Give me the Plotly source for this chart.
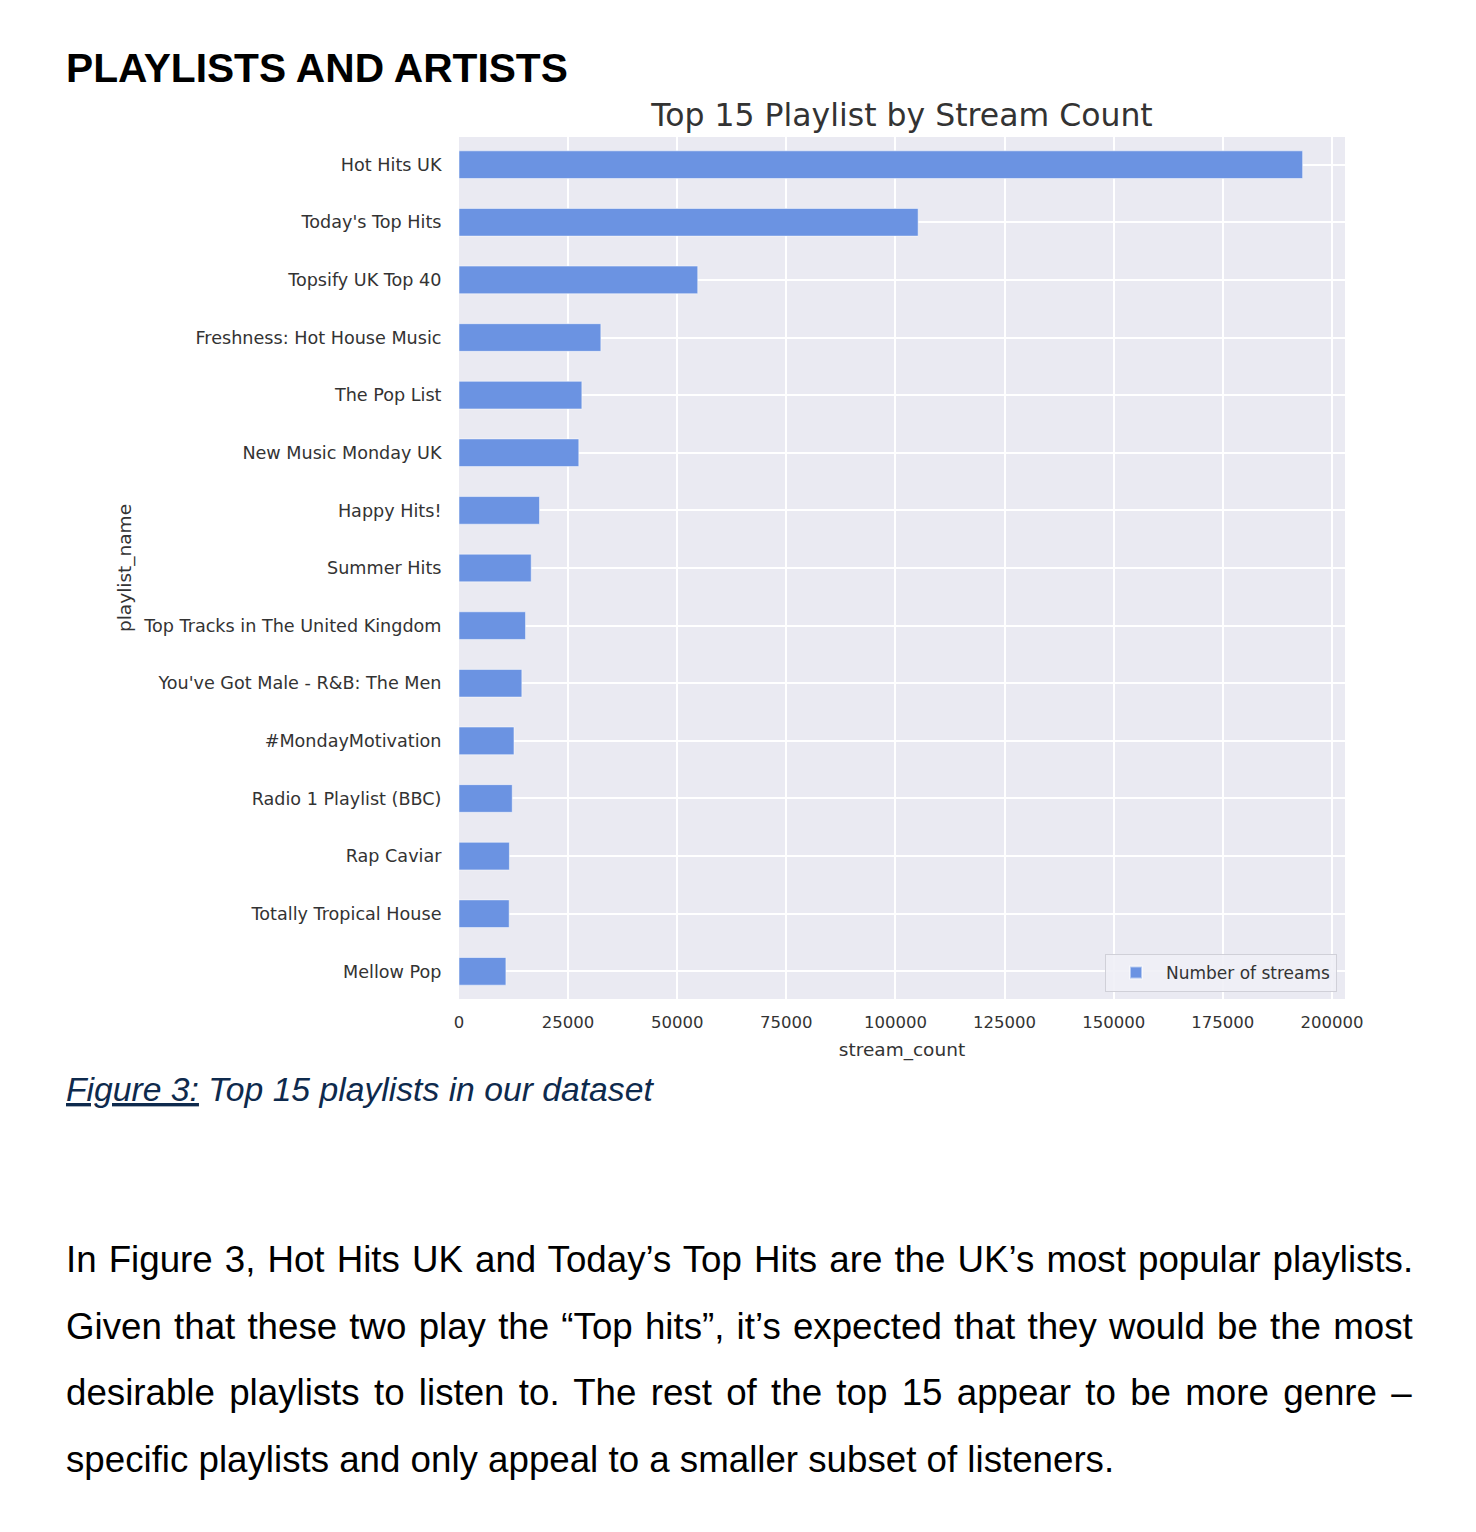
import plotly.graph_objects as go

# ---------------- data ----------------
playlists = [
    "Mellow Pop", "Totally Tropical House", "Rap Caviar", "Radio 1 Playlist (BBC)",
    "#MondayMotivation", "You've Got Male - R&B: The Men", "Top Tracks in The United Kingdom",
    "Summer Hits", "Happy Hits!", "New Music Monday UK", "The Pop List",
    "Freshness: Hot House Music", "Topsify UK Top 40", "Today's Top Hits", "Hot Hits UK",
]
stream_counts = [10750, 11500, 11550, 12200, 12600, 14400, 15250,
                 16550, 18450, 27450, 28150, 32500, 54700, 105200, 193300]
x_ticks = [0, 25000, 50000, 75000, 100000, 125000, 150000, 175000, 200000]
series_name = "Number of streams"

title_text = "Top 15 Playlist by Stream Count"
header_text = "PLAYLISTS AND ARTISTS"
caption_text = "<u>Figure 3:</u> Top 15 playlists in our dataset"
paragraph_lines = [
    "In Figure 3, Hot Hits UK and Today’s Top Hits are the UK’s most popular playlists.",
    "Given that these two play the “Top hits”, it’s expected that they would be the most",
    "desirable playlists to listen to. The rest of the top 15 appear to be more genre –",
    "specific playlists and only appeal to a smaller subset of listeners.",
]
# extra word spacing (px) used to justify the first three lines
line_word_spacing = [1.9, 2.0, 4.1, 0]

# ---------------- layout geometry ----------------
W, H = 1476, 1532
L, R, T, B = 459, 1345, 137, 999
PW, PH = R - L, B - T

def px(xp):
    return (xp - L) / PW

def py(yp):
    return (B - yp) / PH

TEXT = "#333333"
MPL_FONT = "DejaVu Sans"

fig = go.Figure()
fig.add_trace(go.Bar(
    x=stream_counts, y=playlists, orientation="h", name=series_name,
    width=0.48,
    marker=dict(color="#6b93e2", line=dict(color="rgba(255,255,255,0.5)", width=1)),
    showlegend=True,
))

fig.update_layout(
    width=W, height=H,
    margin=dict(l=L, r=W - R, t=T, b=H - B, autoexpand=False),
    paper_bgcolor="white",
    plot_bgcolor="#eaeaf2",
    font=dict(family=MPL_FONT, color=TEXT, size=17),
    title=dict(text=title_text, x=0.5, xref="paper", xanchor="center",
               y=1 - 115 / H, yref="container", yanchor="middle",
               font=dict(family=MPL_FONT, size=31.5, color=TEXT)),
    showlegend=True,
    legend=dict(x=px(1337), y=py(992), xanchor="right", yanchor="bottom",
                bgcolor="rgba(240,240,246,0.9)", bordercolor="#d0d0d8", borderwidth=1,
                font=dict(family=MPL_FONT, size=17, color=TEXT),
                itemsizing="constant", itemwidth=50),
    bargap=0.5,
)

fig.update_xaxes(
    range=[0, 203000], tickvals=x_ticks, ticktext=[str(v) for v in x_ticks],
    showgrid=True, gridcolor="white", gridwidth=1.5, zeroline=False,
    ticks="outside", ticklen=8, tickcolor="rgba(0,0,0,0)",
    tickfont=dict(family=MPL_FONT, size=16.5, color=TEXT),
    title=dict(text="stream_count", standoff=12, font=dict(family=MPL_FONT, size=18.5, color=TEXT)),
    showline=False,
)
fig.update_yaxes(
    type="category", categoryorder="array", categoryarray=playlists,
    range=[-0.48, 14.48],
    showgrid=True, gridcolor="white", gridwidth=1.5, zeroline=False,
    ticks="outside", ticklen=13, tickcolor="rgba(0,0,0,0)",
    tickfont=dict(family=MPL_FONT, size=17.6, color=TEXT),
    title=dict(text="playlist_name", standoff=6, font=dict(family=MPL_FONT, size=18.5, color=TEXT)),
    showline=False,
)

# ---------------- document text ----------------
DOC_FONT = "Liberation Sans"
ann = []
ann.append(dict(text="<b>" + header_text + "</b>", x=px(64), y=py(68), xref="paper", yref="paper",
                xanchor="left", yanchor="middle", showarrow=False,
                font=dict(family=DOC_FONT, size=40.7, color="black")))
ann.append(dict(text="<i>" + caption_text + "</i>", x=px(64), y=py(1089), xref="paper", yref="paper",
                xanchor="left", yanchor="middle", showarrow=False,
                font=dict(family=DOC_FONT, size=33.7, color="#0e2a4d")))
line_y = [1259, 1326, 1392, 1459]
for txt, yy, ws in zip(paragraph_lines, line_y, line_word_spacing):
    t = f'<span style="word-spacing:{ws}px">{txt}</span>' if ws else txt
    ann.append(dict(text=t, x=px(64), y=py(yy), xref="paper", yref="paper",
                    xanchor="left", yanchor="middle", showarrow=False,
                    font=dict(family=DOC_FONT, size=36.7, color="black")))
fig.update_layout(annotations=ann)

fig.write_html("out.html")
